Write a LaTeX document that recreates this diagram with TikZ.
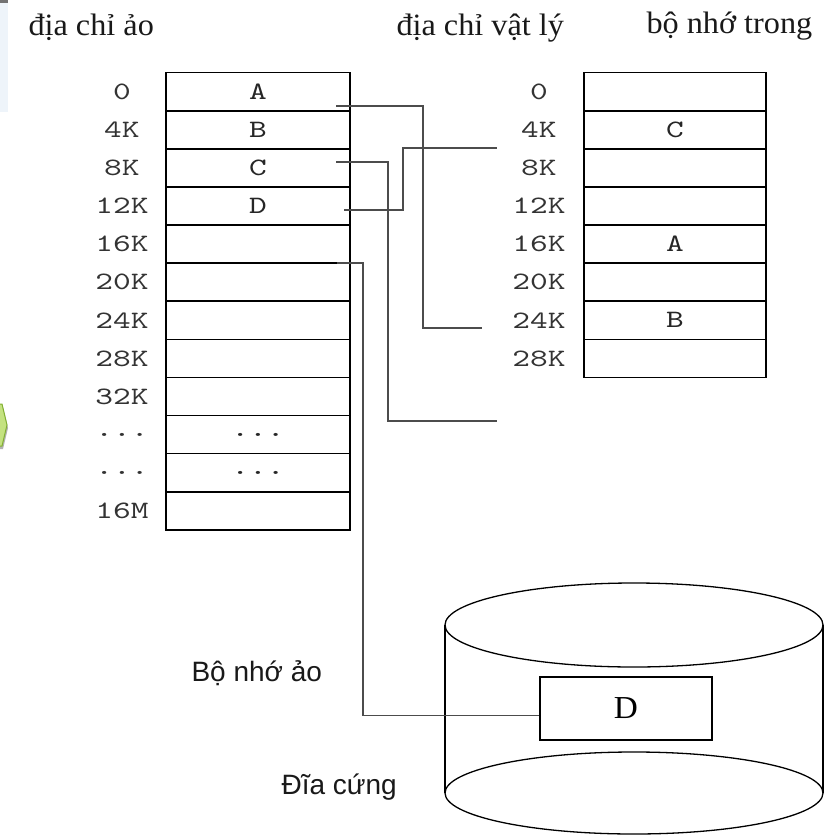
\documentclass[tikz,border=0pt]{standalone}
\usepackage{fontspec}
\newfontfamily\titlefont[FakeStretch=1.04]{Liberation Serif}
\newfontfamily\cellfont[FakeStretch=1.35]{lmmono10-regular.otf}
\newfontfamily\notefont{Liberation Sans}
\usetikzlibrary{positioning}
\definecolor{slideblue}{RGB}{238,244,250}
\definecolor{slidegreen}{RGB}{196,226,128}
\definecolor{slidegreenline}{RGB}{130,176,50}

\begin{document}
\begin{tikzpicture}[x=1pt, y=-1pt,
        page/.style={rectangle, draw=black, line width=1.6pt, outer sep=0pt, inner sep=0pt, minimum width=184.3pt, minimum height=38.1pt, text=black!85, font=\cellfont\fontsize{25}{28}\selectfont},
        frame/.style={page, minimum width=181.7pt},
        addr/.style={text=black!80, xshift=-136pt, font=\cellfont\fontsize{25}{28}\selectfont},
        heading/.style={anchor=base west, text=black!90, font=\titlefont\fontsize{31}{34}\selectfont},
        caption/.style={anchor=west, text=black!90, font=\notefont\fontsize{28}{32}\selectfont},
        link/.style={draw=black!70, line width=1.4pt},
        disk/.style={draw=black, line width=1.3pt},
    ]
    \useasboundingbox[fill=white] (0,0) rectangle (827,836);

    % slide edge
    \fill[slideblue] (0,3) rectangle (8,112);
    \fill[black!55] (0,0) rectangle (8,3);
    \fill[black!30] (0,407) -- (3,407) -- (8,428) -- (3,449) -- (0,449) -- cycle;
    \filldraw[fill=slidegreen, draw=slidegreenline, line width=1pt] (0,404) -- (2,404) -- (7,425) -- (2,446) -- (0,446);

    \node[heading] (hvirt) at (25,35) {địa chỉ ảo};
    \node[heading] (hphys) at (393,35) {địa chỉ vật lý};
    \node[heading] (hmem) at (643,33) {bộ nhớ trong};

    \node[page,label={[addr]center:0}] (virt0) at (257.9,91.7) {A};
    \node[page,label={[addr]center:4K}] (virt4) [below=0pt of virt0] {B};
    \node[page,label={[addr]center:8K}] (virt8) [below=0pt of virt4] {C};
    \node[page,label={[addr]center:12K}] (virt12) [below=0pt of virt8] {D};
    \node[page,label={[addr]center:16K}] (virt16) [below=0pt of virt12] {};
    \node[page,label={[addr]center:20K}] (virt20) [below=0pt of virt16] {};
    \node[page,label={[addr]center:24K}] (virt24) [below=0pt of virt20] {};
    \node[page,label={[addr]center:28K}] (virt28) [below=0pt of virt24] {};
    \node[page,label={[addr]center:32K}] (virt32) [below=0pt of virt28] {};
    \node[page,label={[addr]center:...}] (virtdotsa) [below=0pt of virt32] {...};
    \node[page,label={[addr]center:...}] (virtdotsb) [below=0pt of virtdotsa] {...};
    \node[page,label={[addr]center:16M}] (virt16M) [below=0pt of virtdotsb] {};

    \node[frame,label={[addr]center:0}] (phys0) at (674.9,91.7) {};
    \node[frame,label={[addr]center:4K}] (phys4) [below=0pt of phys0] {C};
    \node[frame,label={[addr]center:8K}] (phys8) [below=0pt of phys4] {};
    \node[frame,label={[addr]center:12K}] (phys12) [below=0pt of phys8] {};
    \node[frame,label={[addr]center:16K}] (phys16) [below=0pt of phys12] {A};
    \node[frame,label={[addr]center:20K}] (phys20) [below=0pt of phys16] {};
    \node[frame,label={[addr]center:24K}] (phys24) [below=0pt of phys20] {B};
    \node[frame,label={[addr]center:28K}] (phys28) [below=0pt of phys24] {};

    % hard disk
    \draw[disk] (634,625) ellipse [x radius=189, y radius=42];
    \draw[disk] (634,793) ellipse [x radius=189, y radius=41];
    \draw[disk] (445,625) -- (445,793) (823,625) -- (823,793);
    \node[rectangle, draw=black, line width=1.4pt, minimum width=172pt, minimum height=63pt, font=\titlefont\fontsize{32}{34}\selectfont] (diskD) at (626,708.5) {D};

    \node[caption] (lvirt) at (188,673) {Bộ nhớ ảo};
    \node[caption] (ldisk) at (278,787) {Đĩa cứng};

    \coordinate (outA) at (336,106);
    \coordinate (inA) at (482,328);
    \coordinate (outC) at (336,162);
    \coordinate (inC) at (497,421);
    \coordinate (outD) at (344,210);
    \coordinate (inD) at (497,148);
    \coordinate (outE) at (337,263);

    \draw[link] (outA) -- ++(87,0) |- (inA);
    \draw[link] (outC) -- ++(52,0) |- (inC);
    \draw[link] (outD) -- ++(59,0) |- (inD);
    \draw[link] (outE) -- ++(26,0) |- ([yshift=-7pt]diskD.west);
\end{tikzpicture}
\end{document}
